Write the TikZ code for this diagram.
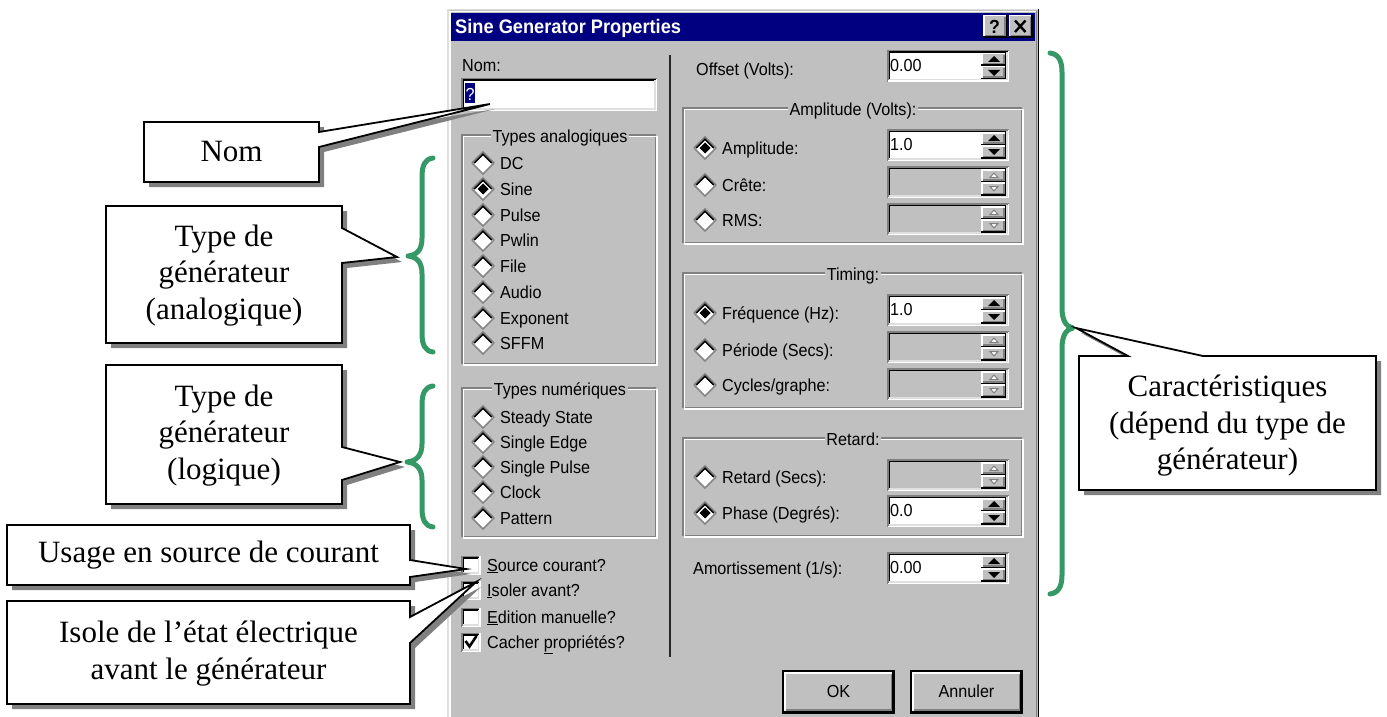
\documentclass[tikz,border=0pt]{standalone}
\usepackage{fontspec}
\setmainfont{Liberation Serif}
\newfontfamily\uifont[FakeStretch=0.93]{Liberation Sans}

\definecolor{winnavy}{RGB}{0,0,128}
\definecolor{wingray}{RGB}{192,192,192}
\definecolor{windark}{RGB}{128,128,128}
\definecolor{winlight}{RGB}{223,223,223}
\definecolor{bracegreen}{RGB}{52,153,103}
\definecolor{shadowgray}{RGB}{128,128,128}

\tikzset{
  uitext/.style={font=\uifont\fontsize{17.4}{20}\selectfont, inner sep=0pt, anchor=base west, text=black},
  uilabel/.style={font=\uifont\fontsize{17.4}{20}\selectfont, inner xsep=1.5pt, inner ysep=0pt, anchor=base, fill=wingray, text=black},
  titletext/.style={font=\uifont\bfseries\fontsize{19.6}{22}\selectfont, inner sep=0pt, anchor=base west, text=white},
  calltext/.style={font=\fontsize{31}{36.5}\selectfont, align=center, inner sep=0pt},
  calloutline/.style={draw=black, line width=1.8pt, fill=white, line join=miter},
  calloutshadow/.style={fill=shadowgray},
  bracestroke/.style={draw=bracegreen, line width=5pt, line cap=round, line join=round},
  bevel/.style={line width=1.5pt}
}

% raised 3D button face: x1, y1, x2, y2
\newcommand\raisedface[4]{%
  \fill[wingray] (#1,#2) rectangle (#3,#4);
  \draw[white, bevel] (#1+0.75,#4) -- (#1+0.75,#2+0.75) -- (#3,#2+0.75);
  \draw[black, bevel] (#1,#4-0.75) -- (#3-0.75,#4-0.75) -- (#3-0.75,#2);
  \draw[windark, bevel] (#1+2,#4-2.25) -- (#3-2.25,#4-2.25) -- (#3-2.25,#2+2);
}

% sunken field frame: x1, y1, x2, y2, fill colour
\newcommand\sunkenfield[5]{%
  \fill[#5] (#1,#2) rectangle (#3,#4);
  \draw[windark, bevel] (#1+0.75,#4) -- (#1+0.75,#2+0.75) -- (#3,#2+0.75);
  \draw[white, bevel] (#1+0.75,#4-0.75) -- (#3-0.75,#4-0.75) -- (#3-0.75,#2+0.75);
  \draw[black, bevel] (#1+2.25,#4-1.5) -- (#1+2.25,#2+2.25) -- (#3-1.5,#2+2.25);
  \draw[winlight, bevel] (#1+2.25,#4-2.25) -- (#3-2.25,#4-2.25) -- (#3-2.25,#2+2.25);
}

% spin box: x, y (top), node name, value, enabled (1/0)
\newcommand\spinbox[5]{%
  \ifnum#5=1 \sunkenfield{#1}{#2}{#1+122}{#2+32}{white}%
  \else \sunkenfield{#1}{#2}{#1+122}{#2+32}{wingray}\fi
  \raisedface{#1+94}{#2+3}{#1+119}{#2+16}
  \raisedface{#1+94}{#2+16}{#1+119}{#2+29.5}
  \ifnum#5=1
    \fill[black] (#1+101,#2+12) -- (#1+113,#2+12) -- (#1+107,#2+6) -- cycle;
    \fill[black] (#1+101,#2+20) -- (#1+113,#2+20) -- (#1+107,#2+26) -- cycle;
  \else
    \draw[windark, line width=1pt, fill=white] (#1+103,#2+11.5) -- (#1+111,#2+11.5) -- (#1+107,#2+7) -- cycle;
    \draw[windark, line width=1pt, fill=white] (#1+103,#2+20.5) -- (#1+111,#2+20.5) -- (#1+107,#2+25) -- cycle;
  \fi
  \node[uitext] (#3) at (#1+3,#2+21) {#4};
}

% diamond radio button: cx, cy, selected (1/0)
\newcommand\radiobtn[3]{%
  \fill[white] (#1-11,#2) -- (#1,#2-11) -- (#1+11,#2) -- (#1,#2+11) -- cycle;
  \draw[windark, bevel] (#1-11,#2) -- (#1,#2-11) -- (#1+11,#2);
  \draw[black, bevel] (#1-8.8,#2) -- (#1,#2-8.8) -- (#1+8.8,#2);
  \draw[wingray!70!black, bevel] (#1+11,#2) -- (#1,#2+11) -- (#1-11,#2);
  \ifnum#3=1
    \fill[black] (#1-5.5,#2) -- (#1,#2-5.5) -- (#1+5.5,#2) -- (#1,#2+5.5) -- cycle;
  \fi
}

% check box: x, cy, checked (1/0)
\newcommand\checkbx[3]{%
  \sunkenfield{#1}{#2-9.5}{#1+19.5}{#2+10}{white}
  \ifnum#3=1
    \draw[black, line width=2.6pt, line cap=butt] (#1+4.5,#2-1) -- (#1+8.5,#2+4.5) -- (#1+15.5,#2-6);
  \fi
}

% etched group frame: x1, y1, x2, y2, title, node name, title centre x
\newcommand\groupframe[7]{%
  \draw[windark, line width=1.3pt] (#1,#2) rectangle (#3-1.5,#4-1.5);
  \draw[white, line width=1.3pt] (#1+1.5,#2+1.5) rectangle (#3,#4);
  \node[uilabel] (#6) at (#7,#2+7) {#5};
}

\begin{document}
\begin{tikzpicture}[x=1pt, y=-1pt]
\useasboundingbox[fill=white] (0,0) rectangle (1387,717);

% ---------- dialog window ----------
\fill[wingray] (447,9) rectangle (1039,717);
\draw[winlight, bevel] (447.75,717) -- (447.75,9.75) -- (1039,9.75);
\draw[white, bevel] (449.75,717) -- (449.75,11.75) -- (1036,11.75);
\draw[black, bevel] (1038.25,9) -- (1038.25,717);
\draw[windark, bevel] (1036.25,11) -- (1036.25,717);

% title bar
\fill[winnavy] (451,13) rectangle (1034.5,41);
\node[titletext] (title) at (455,33.5) {Sine Generator Properties};
\raisedface{983}{15}{1007}{38}
\node[font=\uifont\bfseries\fontsize{19}{20}\selectfont, inner sep=0pt] (helpbtn) at (994.5,26.5) {?};
\raisedface{1008.5}{15}{1032.5}{38}
\coordinate (xa) at (1015,20.5);
\coordinate (xb) at (1025.5,32);
\coordinate (xc) at (1025.5,20.5);
\coordinate (xd) at (1015,32);
\draw[black, line width=2.4pt] (xa) -- (xb);
\draw[black, line width=2.4pt] (xc) -- (xd);

% column separator
\draw[black!85, line width=2.6pt] (670,55) -- (670,657);

% ---------- left column ----------
\node[uitext] (nomlbl) at (462,72) {Nom:};
\sunkenfield{461}{78}{657}{111}{white}
\fill[winnavy] (465,83) rectangle (475,102.5);
\node[uitext, text=white] (nomval) at (465.5,100) {?};

\groupframe{462}{135}{657}{365}{Types analogiques}{anagrp}{560}
\foreach \lbl/\yy/\sel [count=\i] in {DC/163/0, Sine/189/1, Pulse/215/0, Pwlin/240/0,
    File/266/0, Audio/292/0, Exponent/318/0, SFFM/343/0} {
  \radiobtn{483}{\yy}{\sel}
  \node[uitext] (ana\i) at (500,\yy+6) {\lbl};
}

\groupframe{462}{388}{657}{538}{Types numériques}{numgrp}{560}
\foreach \lbl/\yy [count=\i] in {Steady State/417, Single Edge/442, Single Pulse/467,
    Clock/492, Pattern/518} {
  \radiobtn{483}{\yy}{0}
  \node[uitext] (num\i) at (500,\yy+6) {\lbl};
}

\checkbx{461}{565}{0}
\node[uitext] (chk1) at (487,571) {\underline{S}ource courant?};
\checkbx{461}{590}{0}
\node[uitext] (chk2) at (487,596) {\underline{I}soler avant?};
\checkbx{461}{617}{0}
\node[uitext] (chk3) at (487,623) {\underline{E}dition manuelle?};
\checkbx{461}{642}{1}
\node[uitext] (chk4) at (487,648) {Cacher \underline{p}ropriétés?};

% ---------- right column ----------
\node[uitext] (offlbl) at (696,76) {Offset (Volts):};
\spinbox{887}{50}{offval}{0.00}{1}

\groupframe{683}{108}{1023}{244}{Amplitude (Volts):}{ampgrp}{853}
\radiobtn{705}{148}{1}
\node[uitext] (amp1) at (722,154) {Amplitude:};
\spinbox{887}{129}{ampval}{1.0}{1}
\radiobtn{705}{185}{0}
\node[uitext] (amp2) at (722,191) {Crête:};
\spinbox{887}{166}{creval}{}{0}
\radiobtn{705}{220}{0}
\node[uitext] (amp3) at (722,226) {RMS:};
\spinbox{887}{203}{rmsval}{}{0}

\groupframe{683}{273}{1023}{409}{Timing:}{timgrp}{853}
\radiobtn{705}{313}{1}
\node[uitext] (tim1) at (722,319) {Fréquence (Hz):};
\spinbox{887}{294}{freval}{1.0}{1}
\radiobtn{705}{350}{0}
\node[uitext] (tim2) at (722,356) {Période (Secs):};
\spinbox{887}{331}{perval}{}{0}
\radiobtn{705}{385}{0}
\node[uitext] (tim3) at (722,391) {Cycles/graphe:};
\spinbox{887}{368}{cycval}{}{0}

\groupframe{683}{438}{1023}{537}{Retard:}{retgrp}{853}
\radiobtn{705}{477}{0}
\node[uitext] (ret1) at (722,483) {Retard (Secs):};
\spinbox{887}{459}{retval}{}{0}
\radiobtn{705}{513}{1}
\node[uitext] (ret2) at (722,519) {Phase (Degrés):};
\spinbox{887}{495}{phaval}{0.0}{1}

\node[uitext] (amolbl) at (693,574) {Amortissement (1/s):};
\spinbox{887}{552}{amoval}{0.00}{1}

% dialog buttons
\draw[black, bevel] (782.75,670.75) rectangle (894.25,713);
\raisedface{784}{672}{893.5}{712}
\node[uitext, anchor=base] (okbtn) at (838.5,697) {OK};
\draw[black, bevel] (910.75,670.75) rectangle (1022.25,713);
\raisedface{912}{672}{1021.5}{712}
\node[uitext, anchor=base] (cancelbtn) at (966.5,697) {Annuler};

% ---------- braces ----------
\draw[bracestroke] (433,158) .. controls (425,159) and (422,165) .. (422,177)
  -- (422,238) .. controls (422,250) and (417,255) .. (408,256)
  .. controls (417,257) and (422,262) .. (422,274)
  -- (422,333) .. controls (422,345) and (425,351) .. (433,352);
\draw[bracestroke] (433,386) .. controls (425,387) and (422,393) .. (422,405)
  -- (422,444) .. controls (422,456) and (416,461) .. (407,462)
  .. controls (416,463) and (422,468) .. (422,480)
  -- (422,508) .. controls (422,520) and (425,526) .. (433,527);
\draw[bracestroke] (1050,53) .. controls (1058,54) and (1062,60) .. (1062,72)
  -- (1062,308) .. controls (1062,320) and (1066,327) .. (1073,328)
  .. controls (1066,329) and (1062,336) .. (1062,348)
  -- (1062,575) .. controls (1062,587) and (1058,593) .. (1050,594);

% ---------- callouts (shadow, then outline) ----------
\newcommand\calloutshape[1]{%
  \fill[calloutshadow, shift={(5,5)}] #1;
  \draw[calloutline] #1;
}
\calloutshape{(144,122) -- (319,122) -- (319,132) -- (490,104) -- (319,147) -- (319,182) -- (144,182) -- cycle}
\node[calltext] (cnom) at (231.5,152) {Nom};

\calloutshape{(106,206) -- (342,206) -- (342,228) -- (397,257) -- (342,263) -- (342,343) -- (106,343) -- cycle}
\node[calltext] (cana) at (224,275.5) {Type de\\générateur\\(analogique)};

\calloutshape{(106,365) -- (342,365) -- (342,447) -- (400,462) -- (342,480) -- (342,504) -- (106,504) -- cycle}
\node[calltext] (clog) at (224,435.5) {Type de\\générateur\\(logique)};

\calloutshape{(7,525) -- (410,525) -- (410,560) -- (466,569) -- (410,577) -- (410,585) -- (7,585) -- cycle}
\node[calltext] (csrc) at (208.5,555) {Usage en source de courant};

\calloutshape{(7,601) -- (410,601) -- (410,617) -- (476,582) -- (410,643) -- (410,704) -- (7,704) -- cycle}
\node[calltext] (ciso) at (208.5,653.5) {Isole de l’état électrique\\avant le générateur};

\calloutshape{(1079,356) -- (1128,356) -- (1076,328) -- (1203,356) -- (1376,356) -- (1376,490) -- (1079,490) -- cycle}
\node[calltext] (ccar) at (1227.5,426) {Caractéristiques\\(dépend du type de\\générateur)};

\end{tikzpicture}
\end{document}
